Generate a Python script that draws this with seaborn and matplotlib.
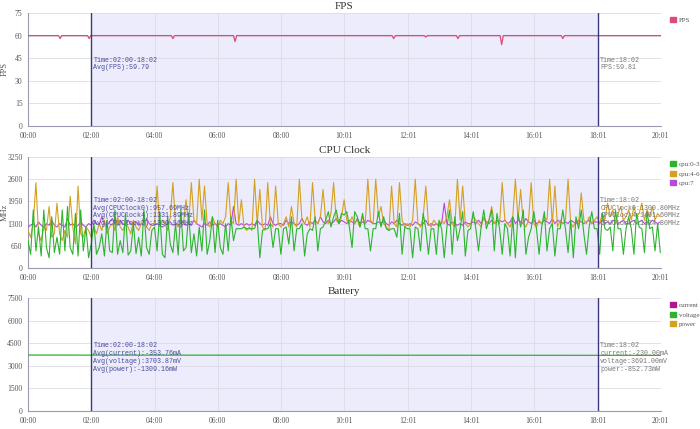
import numpy as np
import pandas as pd
import matplotlib
matplotlib.use("Agg")
import matplotlib.pyplot as plt
import matplotlib.patches as mpatches
import seaborn as sns

# time axis (seconds) and tick labels
tick_labels = ["00:00", "02:00", "04:00", "06:00", "08:00", "10:01",
               "12:01", "14:01", "16:01", "18:01", "20:01"]
t_end = 1201
sel_start, sel_end = 120, 1082

# FPS breakpoints (seconds, fps)
fps_time = [0, 58, 61, 64, 113, 116, 119, 272, 275, 278, 390, 393, 396,
            691, 694, 697, 752, 755, 758, 813, 816, 819, 896, 899, 902,
            1012, 1015, 1018, 1201]
fps_vals = [60, 60, 58, 60, 60, 58, 60, 60, 58, 60, 60, 56, 60,
            60, 58, 60, 60, 59, 60, 60, 58, 60, 60, 54, 60,
            60, 58, 60, 60]

# CPU clocks, one sample every 5 seconds (MHz)
cpu0_3 = [
    800, 400, 1700, 500, 1200, 350, 1700, 600, 300, 1500, 450, 900,
    400, 1700, 500, 1800, 600, 400, 1600, 350, 1700, 500, 1200, 300,
    700, 1300, 400, 600, 1000, 350, 1400, 500, 450, 1700, 400, 800,
    450, 1600, 380, 500, 1300, 420, 900, 350, 1700, 600, 400, 1100,
    1200, 500, 1650, 400, 300, 1500, 700, 450, 1300, 380, 1700, 500,
    600, 1600, 450, 1000, 350, 1200, 500, 1700, 400, 800, 1500, 450,
    1400, 600, 400, 1300, 500, 1500, 800, 1150, 1150, 1150, 1200, 1150,
    1150, 1150, 1160, 1400, 300, 1100, 1150, 1150, 1300, 600, 1150, 1150,
    400, 1150, 1200, 700, 1500, 500, 1150, 1150, 1300, 350, 1000, 1150,
    1100, 1500, 500, 1150, 1200, 1400, 1650, 1200, 1500, 1700, 1300, 1600,
    1550, 1650, 1200, 600, 1650, 1500, 1200, 1600, 1150, 1150, 500, 1150,
    1150, 1650, 1200, 1500, 1150, 1100, 1150, 1150, 900, 1600, 400, 1200,
    1150, 1150, 300, 1200, 1150, 500, 1600, 1150, 400, 1150, 1150, 400,
    1400, 1150, 300, 1200, 1700, 400, 1500, 800, 1150, 1650, 350, 1100,
    1150, 1650, 1150, 500, 1200, 1700, 1150, 1400, 1700, 500, 1600, 1150,
    400, 1300, 1150, 350, 1500, 300, 1600, 1200, 1700, 400, 900, 1150,
    1650, 1150, 400, 1200, 1650, 500, 1150, 1300, 350, 1150, 1150, 1700,
    1150, 450, 1400, 300, 1500, 1150, 1700, 1000, 400, 1200, 1650, 1150,
    1150, 400, 1600, 1150, 1100, 1200, 500, 1700, 1150, 1150, 400, 1150,
    1500, 1150, 400, 1600, 1200, 1150, 450, 1650, 1150, 1200, 500, 1300,
    450]
cpu4_6 = [
    1100, 900, 1300, 2500, 1000, 800, 1200, 1100, 1800, 900, 1000, 1900,
    1000, 800, 1100, 900, 2100, 1200, 700, 2400, 1000, 900, 1200, 1100,
    900, 1200, 1000, 1300, 1100, 1400, 1000, 1200, 1300, 1100, 1500, 1200,
    1100, 1300, 1200, 1000, 1400, 1200, 1100, 1300, 1500, 1200, 1100, 1300,
    1300, 2400, 1200, 1400, 1300, 1100, 1500, 2500, 1300, 1200, 1400, 1300,
    2000, 1300, 2500, 1400, 1300, 2600, 1400, 2400, 1300, 1200, 1500, 1300,
    1200, 1400, 1300, 1500, 2500, 1400, 1300, 2600, 1300, 2000, 1200, 1100,
    1200, 1100, 2600, 1300, 2300, 1200, 1100, 2500, 1300, 1200, 2400, 1300,
    1200, 1300, 1500, 1200, 1800, 1300, 1200, 2600, 1400, 1300, 1500, 1200,
    2500, 1400, 1300, 1500, 2300, 1400, 1300, 1600, 2500, 1400, 1300, 1500,
    2000, 1400, 1300, 1500, 1300, 1400, 1200, 1500, 1300, 2600, 1400, 1300,
    2600, 1500, 1800, 1300, 1200, 1100, 2400, 1300, 1200, 2500, 1400, 1200,
    1300, 1200, 1400, 2600, 1300, 1200, 1500, 2400, 1300, 1200, 1400, 1300,
    1200, 1400, 1300, 1500, 2000, 1300, 1200, 2600, 1400, 2400, 1300, 1200,
    1300, 1500, 1400, 1300, 1200, 1500, 1300, 1400, 1800, 1300, 1400, 1300,
    2500, 1400, 1300, 1200, 1500, 2600, 1400, 2300, 1300, 1200, 1400, 2500,
    1300, 1200, 1400, 1300, 1500, 1400, 2600, 1300, 2400, 1200, 1400, 1300,
    1400, 2600, 1300, 1200, 1400, 1300, 2200, 1400, 1300, 1500, 1300, 1400,
    1500, 1300, 1600, 1400, 1900, 1500, 1700, 1300, 1600, 1800, 1400, 1500,
    1700, 1400, 1800, 1500, 1600, 1900, 1400, 1700, 1500, 1800, 1400, 1600,
    1500]
cpu7 = [
    1200, 1250, 1300, 1200, 1350, 1250, 1200, 1300, 1250, 1400, 1250, 1200,
    1300, 1250, 1200, 1450, 1250, 1300, 1200, 1250, 1350, 1250, 1200, 1300,
    1250, 1400, 1300, 1250, 1500, 1300, 1250, 1350, 1450, 1300, 1250, 1400,
    1300, 1250, 1400, 1300, 1250, 1350, 1250, 1300, 1250, 1450, 1300, 1250,
    1250, 1300, 1250, 1200, 1250, 1300, 1350, 1250, 1300, 1250, 1200, 1300,
    1250, 1300, 1250, 1400, 1300, 1250, 1200, 1300, 1250, 1350, 1250, 1300,
    1250, 1300, 1250, 1200, 1300, 1250, 1800, 1300, 1250, 1300, 1250, 1300,
    1250, 1300, 1250, 1400, 1300, 1250, 1300, 1250, 1500, 1300, 1250, 1300,
    1300, 1250, 1400, 1300, 1350, 1300, 1250, 1300, 1450, 1300, 1250, 1350,
    1300, 1400, 1300, 1500, 1350, 1300, 1400, 1300, 1350, 1450, 1300, 1400,
    1350, 1300, 1400, 1350, 1300, 1450, 1300, 1350, 1300, 1400, 1350, 1300,
    1300, 1350, 1300, 1400, 1300, 1250, 1350, 1300, 1400, 1300, 1250, 1300,
    1250, 1300, 1250, 1350, 1300, 1250, 1300, 1400, 1250, 1300, 1250, 1300,
    1250, 1300, 1900, 1300, 1250, 1350, 1300, 1250, 1300, 1250, 1350, 1300,
    1300, 1350, 1300, 1400, 1300, 1450, 1350, 1300, 1400, 1300, 1350, 1400,
    1350, 1400, 1300, 1350, 1500, 1300, 1400, 1350, 1300, 1450, 1350, 1300,
    1400, 1300, 1350, 1300, 1400, 1350, 1300, 1450, 1300, 1400, 1350, 1300,
    1350, 1300, 1400, 1350, 1300, 1400, 1350, 1300, 1350, 1400, 1300, 1350,
    1350, 1300, 1400, 1300, 1350, 1300, 1400, 1350, 1300, 1350, 1400, 1300,
    1300, 1350, 1400, 1300, 1350, 1400, 1300, 1350, 1300, 1400, 1350, 1300,
    1350]
cpu_step = 5

# battery breakpoints
bat_time = [0, 120, 600, 1082, 1201]
bat_current = [-340, -350, -355, -230, -230]
bat_voltage = [3712, 3708, 3703, 3693, 3691]
bat_power = [-1260, -1300, -1310, -850, -850]

# annotation texts
fps_left = "Time:02:00-18:02\nAvg(FPS):59.79"
fps_right = "Time:18:02\nFPS:59.81"
cpu_left = ("Time:02:00-18:02\nAvg(CPUClock0):957.69MHz\n"
            "Avg(CPUClock4):1331.89MHz\nAvg(CPUClock7):1330.56MHz")
cpu_right = ("Time:18:02\nCPUClock0:1300.80MHz\n"
             "CPUClock4:1401.60MHz\nCPUClock7:1324.80MHz")
bat_left = ("Time:02:00-18:02\nAvg(current):-353.76mA\n"
            "Avg(voltage):3703.87mV\nAvg(power):-1309.16mW")
bat_right = ("Time:18:02\ncurrent:-230.00mA\n"
             "voltage:3691.00mV\npower:-852.73mW")

c_fps = "#e04a78"
c_green = "#2cb52c"
c_orange = "#d4a020"
c_purple = "#b84ad8"
c_current = "#b0168e"
shade = "#ececfc"
navy = "#3a3a78"

sns.set_style("white")
plt.rcParams["font.family"] = ["Liberation Serif", "DejaVu Serif"]

fig = plt.figure(figsize=(7, 4.29), dpi=100)
left, width = 0.04, 0.904
ax1 = fig.add_axes([left, 0.7063, width, 0.2634])
ax2 = fig.add_axes([left, 0.3753, width, 0.2587])
ax3 = fig.add_axes([left, 0.042, width, 0.2634])

tick_pos = np.linspace(0, t_end, len(tick_labels))
minor_pos = (tick_pos[:-1] + tick_pos[1:]) / 2


def style_axis(ax, title, ymax, ylabel):
    ax.axvspan(sel_start, sel_end, color=shade, zorder=0, lw=0)
    ax.set_xlim(0, t_end)
    ax.set_ylim(0, ymax)
    ax.set_yticks(np.linspace(0, ymax, 6))
    ax.set_yticklabels([f"{v:g}" for v in np.linspace(0, ymax, 6)])
    ax.set_xticks(tick_pos)
    ax.set_xticklabels(tick_labels)
    ax.set_xticks(minor_pos, minor=True)
    ax.grid(True, color="#dcdce6", lw=0.6, zorder=0)
    ax.set_axisbelow(True)
    for s in ["top", "right"]:
        ax.spines[s].set_visible(False)
    for s in ["left", "bottom"]:
        ax.spines[s].set_color("#9a9ab0")
        ax.spines[s].set_linewidth(0.8)
    ax.tick_params(axis="both", labelsize=5.5, colors="#555555",
                   length=2.5, width=0.6, pad=1.5)
    ax.tick_params(axis="x", which="minor", length=2, width=0.6, colors="#9a9ab0")
    ax.set_title(title, fontsize=8, color="#333333", pad=3)
    ax.set_ylabel(ylabel, fontsize=6, color="#555555")
    ax.yaxis.set_label_coords(-0.03, 0.5)
    ax.set_xlabel("")
    for xv in (sel_start, sel_end):
        ax.axvline(xv, color=navy, lw=1.0, zorder=5)


def legend(ax, labels, colors):
    handles = [mpatches.Patch(color=c, label=l) for l, c in zip(labels, colors)]
    ax.legend(handles=handles, loc="upper left", bbox_to_anchor=(1.005, 1.02),
              frameon=False, fontsize=5, handlelength=0.8, handleheight=0.8,
              handletextpad=0.4, labelspacing=0.5, labelcolor="#555555")


def notes(ax, left_txt, right_txt, ytop):
    ax.text(sel_start + 4, ytop, left_txt, fontsize=4.8, color="#4a4a9a",
            va="top", ha="left", linespacing=1.15, zorder=6,
            family=["Liberation Mono", "DejaVu Sans Mono"])
    ax.text(sel_end + 4, ytop, right_txt, fontsize=4.8, color="#777777",
            va="top", ha="left", linespacing=1.15, zorder=6,
            family=["Liberation Mono", "DejaVu Sans Mono"])


# FPS
fps_df = pd.DataFrame({"t": fps_time, "fps": fps_vals})
sns.lineplot(data=fps_df, x="t", y="fps", ax=ax1, color=c_fps, lw=0.9, zorder=3)
style_axis(ax1, "FPS", 75, "FPS")
legend(ax1, ["FPS"], [c_fps])
notes(ax1, fps_left, fps_right, 46)

# CPU
cpu_t = np.arange(len(cpu0_3)) * cpu_step
cpu_df = pd.DataFrame({"t": cpu_t, "cpu:0-3": cpu0_3,
                       "cpu:4-6": cpu4_6, "cpu:7": cpu7})
cpu_long = cpu_df.melt(id_vars="t", var_name="core", value_name="mhz")
sns.lineplot(data=cpu_long, x="t", y="mhz", hue="core",
             hue_order=["cpu:7", "cpu:4-6", "cpu:0-3"],
             palette={"cpu:0-3": c_green, "cpu:4-6": c_orange, "cpu:7": c_purple},
             ax=ax2, lw=0.8, zorder=3, legend=False)
style_axis(ax2, "CPU Clock", 3250, "MHz")
legend(ax2, ["cpu:0-3", "cpu:4-6", "cpu:7"], [c_green, c_orange, c_purple])
notes(ax2, cpu_left, cpu_right, 2080)

# Battery
bat_df = pd.DataFrame({"t": bat_time, "current": bat_current,
                       "voltage": bat_voltage, "power": bat_power})
bat_long = bat_df.melt(id_vars="t", var_name="kind", value_name="val")
sns.lineplot(data=bat_long, x="t", y="val", hue="kind",
             palette={"current": c_current, "voltage": c_green, "power": c_orange},
             ax=ax3, lw=0.9, zorder=3, legend=False)
style_axis(ax3, "Battery", 7500, "")
legend(ax3, ["current", "voltage", "power"], [c_current, c_green, c_orange])
notes(ax3, bat_left, bat_right, 4560)

fig.savefig("out.png", dpi=100)
